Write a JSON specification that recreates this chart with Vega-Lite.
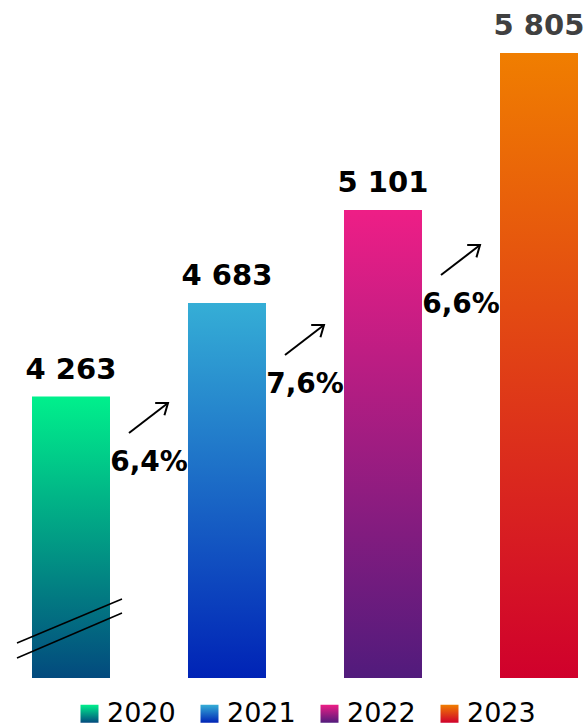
{
  "$schema": "https://vega.github.io/schema/vega-lite/v6.json",
  "width": 588,
  "height": 678,
  "padding": 0,
  "autosize": {"type": "pad"},
  "background": "white",
  "config": {
    "view": {"stroke": null},
    "font": "DejaVu Sans",
    "locale": {"number": {"decimal": ",", "thousands": " ", "grouping": [3], "currency": ["", ""], "percent": "%"}}
  },
  "datasets": {
    "sales": [
      {"year": 2020, "value": 4263},
      {"year": 2021, "value": 4683},
      {"year": 2022, "value": 5101},
      {"year": 2023, "value": 5805}
    ],
    "growth": [
      {"from": 2020, "to": 2021, "pct": 0.064, "at": 3929},
      {"from": 2021, "to": 2022, "pct": 0.076, "at": 4279},
      {"from": 2022, "to": 2023, "pct": 0.066, "at": 4638}
    ]
  },
  "layer": [
    {
      "data": {"name": "sales"},
      "mark": {"type": "bar", "width": 78},
      "encoding": {
        "x": {"field": "year", "type": "quantitative", "scale": {"domain": [2019.5449, 2023.3141], "nice": false, "zero": false, "padding": 0}, "axis": null},
        "y": {"field": "value", "type": "quantitative", "scale": {"domain": [3000, 6043], "nice": false, "zero": false, "padding": 0}, "axis": null},
        "y2": {"datum": 3000},
        "color": {
          "field": "year",
          "type": "nominal",
          "scale": {
            "domain": [2020, 2021, 2022, 2023],
            "range": [
              {"expr": "{gradient: 'linear', x1: 0, y1: 0, x2: 0, y2: 1, stops: [{offset: 0, color: '#00F08C'}, {offset: 1, color: '#034A7E'}]}"},
              {"expr": "{gradient: 'linear', x1: 0, y1: 0, x2: 0, y2: 1, stops: [{offset: 0, color: '#35AED6'}, {offset: 1, color: '#0023B6'}]}"},
              {"expr": "{gradient: 'linear', x1: 0, y1: 0, x2: 0, y2: 1, stops: [{offset: 0, color: '#EE1E86'}, {offset: 1, color: '#511B7C'}]}"},
              {"expr": "{gradient: 'linear', x1: 0, y1: 0, x2: 0, y2: 1, stops: [{offset: 0, color: '#F07E00'}, {offset: 1, color: '#D0002C'}]}"}
            ]
          },
          "legend": {
            "title": null,
            "orient": "none",
            "legendX": 76,
            "legendY": 700,
            "direction": "horizontal",
            "padding": 0,
            "symbolType": "square",
            "symbolSize": 324,
            "symbolStrokeWidth": 0,
            "symbolOpacity": 1,
            "labelFont": "DejaVu Sans",
            "labelFontSize": 27,
            "labelColor": "#000000",
            "labelOffset": 4,
            "columnPadding": 20
          }
        }
      }
    },
    {
      "data": {"name": "sales"},
      "transform": [{"filter": "datum.year == 2020"}],
      "mark": {"type": "rule", "color": "#000000", "strokeWidth": 1.5, "xOffset": -54, "x2Offset": 51, "yOffset": -35, "y2Offset": -79},
      "encoding": {
        "x": {"field": "year", "type": "quantitative"},
        "x2": {"field": "year"},
        "y": {"datum": 3000, "type": "quantitative"},
        "y2": {"datum": 3000}
      }
    },
    {
      "data": {"name": "sales"},
      "transform": [{"filter": "datum.year == 2020"}],
      "mark": {"type": "rule", "color": "#000000", "strokeWidth": 1.5, "xOffset": -54, "x2Offset": 51, "yOffset": -20, "y2Offset": -65},
      "encoding": {
        "x": {"field": "year", "type": "quantitative"},
        "x2": {"field": "year"},
        "y": {"datum": 3000, "type": "quantitative"},
        "y2": {"datum": 3000}
      }
    },
    {
      "data": {"name": "sales"},
      "mark": {"type": "text", "font": "DejaVu Sans", "fontWeight": "bold", "fontSize": 29, "baseline": "alphabetic", "align": "center", "dy": -18},
      "encoding": {
        "x": {"field": "year", "type": "quantitative"},
        "y": {"field": "value", "type": "quantitative"},
        "text": {"field": "value", "type": "quantitative", "format": ",d"},
        "color": {"condition": {"test": "datum.year == 2023", "value": "#404040"}, "value": "#000000"}
      }
    },
    {
      "data": {"name": "growth"},
      "mark": {"type": "rule", "color": "#000000", "strokeWidth": 2, "xOffset": 58, "x2Offset": 97, "yOffset": -38, "y2Offset": -68},
      "encoding": {
        "x": {"field": "from", "type": "quantitative"},
        "x2": {"field": "from"},
        "y": {"field": "at", "type": "quantitative"},
        "y2": {"field": "at"}
      }
    },
    {
      "data": {"name": "growth"},
      "mark": {"type": "point", "shape": "M-1,-0.75L0,0L-1,0.75", "filled": false, "stroke": "#000000", "strokeWidth": 2, "strokeJoin": "miter", "size": 420, "angle": -37, "opacity": 1, "xOffset": 97, "yOffset": -68},
      "encoding": {
        "x": {"field": "from", "type": "quantitative"},
        "y": {"field": "at", "type": "quantitative"}
      }
    },
    {
      "data": {"name": "growth"},
      "mark": {"type": "text", "font": "DejaVu Sans", "fontWeight": "bold", "fontSize": 28, "baseline": "alphabetic", "align": "center", "dx": 78, "color": "#000000"},
      "encoding": {
        "x": {"field": "from", "type": "quantitative"},
        "y": {"field": "at", "type": "quantitative"},
        "text": {"field": "pct", "type": "quantitative", "format": ".1%"}
      }
    }
  ]
}
